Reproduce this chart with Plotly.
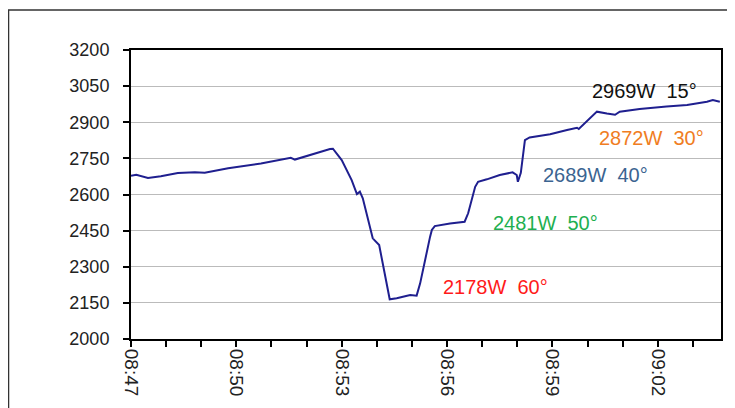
import plotly.graph_objects as go

# --- data ---
times = [
    "08:47:00", "08:47:09", "08:47:29", "08:47:51", "08:48:20", "08:48:49",
    "08:49:06", "08:49:46", "08:50:42", "08:51:33", "08:51:40", "08:52:07",
    "08:52:40", "08:52:45", "08:53:00", "08:53:17",
    "08:53:26", "08:53:31", "08:53:36", "08:53:53", "08:54:04", "08:54:22",
    "08:54:34", "08:54:57", "08:55:08", "08:55:14", "08:55:22", "08:55:31",
    "08:55:34", "08:55:39", "08:56:05", "08:56:30", "08:56:36", "08:56:48",
    "08:56:53", "08:57:08", "08:57:30", "08:57:52", "08:57:59", "08:58:01",
    "08:58:06", "08:58:11", "08:58:13", "08:58:21", "08:58:56", "08:59:25",
    "08:59:42", "08:59:45", "08:59:59", "09:00:16", "09:00:33", "09:00:47",
    "09:00:55", "09:01:29", "09:02:15", "09:02:50", "09:03:24", "09:03:34",
    "09:03:46",
]
power = [
    2678, 2682, 2669, 2676, 2689, 2692,
    2690, 2709, 2729, 2752, 2745, 2766,
    2789, 2790, 2743, 2660,
    2602, 2612, 2584, 2418, 2390, 2165,
    2169, 2183, 2180, 2231, 2328, 2425,
    2453, 2469, 2480, 2487, 2522, 2632,
    2653, 2663, 2681, 2692, 2681, 2653,
    2690, 2785, 2826, 2837, 2850, 2868,
    2877, 2872, 2905, 2944, 2936, 2931,
    2944, 2955, 2965, 2972, 2985, 2992,
    2985,
]
label_texts = ["2969W\u00a0\u00a015°", "2872W\u00a0\u00a030°", "2689W\u00a0\u00a040°",
               "2481W\u00a0\u00a050°", "2178W\u00a0\u00a060°"]
label_colors = ["#111111", "#F07D22", "#3B6491", "#1EAF50", "#FF1A1A"]
label_times = ["09:01:38", "09:01:50", "09:00:13", "08:58:49", "08:57:23"]
label_values = [3030, 2835, 2681, 2482, 2216]
y_ticks = [2000, 2150, 2300, 2450, 2600, 2750, 2900, 3050, 3200]

DAY = "2000-01-01 "
xs = [DAY + t for t in times]

fig = go.Figure()
fig.add_trace(go.Scatter(
    x=xs, y=power, mode="lines",
    line=dict(color="#1F1F8F", width=2),
    showlegend=False, hoverinfo="skip",
))

for txt, col, t, v in zip(label_texts, label_colors, label_times, label_values):
    fig.add_annotation(x=DAY + t, y=v, text=txt, showarrow=False,
                       xanchor="center", yanchor="middle",
                       font=dict(family="Liberation Sans, Arial, sans-serif", size=20, color=col))

# outer frame of the picture (page has an 8px body margin)
fig.add_shape(type="rect", xref="paper", yref="paper",
              x0=-0.2076, x1=1.2, y0=-0.6, y1=1.1384,
              line=dict(color="#333333", width=1.5), fillcolor="rgba(0,0,0,0)", layer="below")

fig.update_layout(
    width=727, height=400,
    margin=dict(l=123, r=14, t=42, b=69),
    paper_bgcolor="white", plot_bgcolor="white",
    font=dict(family="Liberation Sans, Arial, sans-serif", size=18, color="#222222"),
)
fig.update_xaxes(
    type="date", automargin=False,
    range=[DAY + "08:47:00", DAY + "09:03:48"],
    tick0=DAY + "08:47:00", dtick=180000, tickformat="%H:%M",
    tickangle=90, ticks="outside", ticklen=6, tickwidth=1.5, tickcolor="black",
    minor=dict(dtick=60000, tick0=DAY + "08:47:00", ticks="outside", ticklen=6,
               tickwidth=1.5, tickcolor="black", showgrid=False),
    showgrid=False, zeroline=False,
    showline=True, linecolor="black", linewidth=2, mirror=True,
    tickfont=dict(size=19), ticklabelstandoff=-2,
)
fig.update_yaxes(
    range=[2000, 3200], tickvals=y_ticks, automargin=False,
    ticks="outside", ticklen=6, tickwidth=1.5, tickcolor="black",
    showgrid=True, gridcolor="#BBBBBB", gridwidth=1,
    zeroline=False,
    showline=True, linecolor="black", linewidth=2, mirror=True,
    tickfont=dict(size=18), ticklabelstandoff=10,
)

fig.write_html("out.html")
